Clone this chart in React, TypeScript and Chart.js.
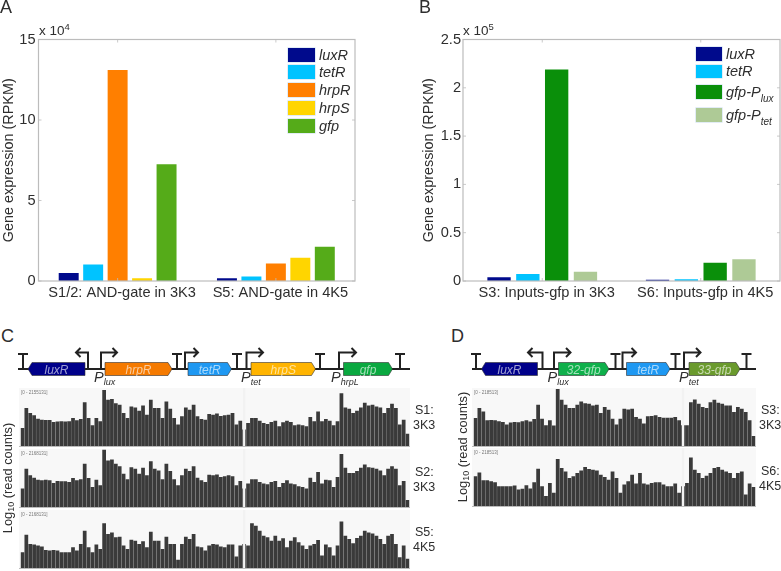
import React, { useEffect, useRef } from "react";
import { Chart, registerables } from "chart.js";

Chart.register(...registerables);

const FONT = '"Liberation Sans", Arial, sans-serif';
const INK = "#2e2e2e";
const BOX = "#bcbcbc";

// Panel A
const groupsA = ["S1/2: AND-gate in 3K3", "S5: AND-gate in 4K5"];
const luxRA = [5000, 1700];
const tetRA = [10300, 2800];
const hrpRA = [131000, 10800];
const hrpSA = [1700, 14500];
const gfpA = [72500, 21300];
const ticksA = [0, 50000, 100000, 150000];

// Panel B
const groupsB = ["S3: Inputs-gfp in 3K3", "S6: Inputs-gfp in 4K5"];
const luxRB = [4000, 1200];
const tetRB = [7200, 1800];
const gfpPluxB = [219000, 19000];
const gfpPtetB = [9500, 22500];
const ticksB = [0, 50000, 100000, 150000, 200000, 250000];

// Coverage tracks, panel C
const s1 = [55,115,100,93,83,80,79,79,73,74,75,74,75,85,78,82,133,85,63,85,75,170,140,143,130,125,100,85,120,117,107,123,95,140,115,115,85,135,113,85,65,90,117,110,125,90,82,80,97,95,99,91,93,95,100,65,77,50,70,85,85,77,70,67,73,77,60,72,77,73,63,65,63,60,88,75,105,75,82,77,63,75,160,117,113,100,107,117,131,123,125,120,117,100,115,128,115,65,80,37];
const s2 = [56,116,96,89,83,81,83,81,73,79,78,78,76,88,81,84,131,88,61,83,66,174,141,144,131,124,101,84,121,116,101,119,96,139,116,111,84,131,109,84,66,96,116,109,124,89,81,76,98,96,99,91,93,96,93,66,79,56,71,84,84,76,71,69,76,79,61,73,81,71,69,63,61,56,89,76,106,71,83,81,61,91,161,119,103,103,109,119,129,121,119,116,111,96,116,124,116,66,79,21];
const s5 = [48,101,73,71,68,65,55,53,55,53,48,48,48,63,53,73,113,63,48,71,58,136,103,108,93,95,68,58,86,83,73,81,63,110,83,83,58,95,73,73,25,73,95,88,103,65,63,53,68,73,71,65,63,71,71,35,68,73,68,136,128,113,98,93,83,98,83,90,63,83,93,78,68,58,68,73,85,38,71,63,38,68,141,98,88,75,91,98,113,108,105,98,88,73,98,103,73,33,68,28];
// Coverage tracks, panel D
const s3 = [85,115,105,78,79,78,75,73,65,71,73,72,75,78,74,82,125,83,63,78,62,173,140,125,115,115,125,135,130,128,123,125,100,118,110,83,65,83,113,111,113,88,83,68,90,91,93,88,86,86,86,88,78,63,63,133,141,128,118,115,133,140,131,128,123,123,103,118,113,103,78,30];
const s6 = [90,102,78,78,75,72,60,60,60,60,62,50,52,63,53,72,113,60,30,70,40,143,115,105,85,90,100,108,118,112,110,108,95,88,80,105,85,40,65,75,95,68,100,68,65,70,72,72,65,60,60,68,40,60,70,147,110,100,85,92,100,115,118,110,105,100,85,100,105,35,68,58];
const gapC = 57;
const gapD = 53;
const trackMax = 176;

const genesC = [
  { name: "luxR", x0: 28, x1: 85, dir: -1, fill: "#00008a" },
  { name: "hrpR", x0: 105, x1: 172, dir: 1, fill: "#f57a00" },
  { name: "tetR", x0: 188, x1: 231.5, dir: 1, fill: "#1e98f2" },
  { name: "hrpS", x0: 251, x1: 315.5, dir: 1, fill: "#ffb400" },
  { name: "gfp", x0: 343.5, x1: 392.5, dir: 1, fill: "#0aa840" },
];
const genesD = [
  { name: "luxR", x0: 481.5, x1: 537.5, dir: -1, fill: "#00008a" },
  { name: "32-gfp", x0: 558.5, x1: 609, dir: 1, fill: "#0fb04b" },
  { name: "tetR", x0: 626.5, x1: 670, dir: 1, fill: "#1e98f2" },
  { name: "33-gfp", x0: 689, x1: 740, dir: 1, fill: "#6a9a2d" },
];

const boxPlugin = {
  id: "matlabBox",
  afterDatasetsDraw(chart: any) {
    const { ctx, chartArea: a, scales } = chart;
    ctx.save();
    ctx.strokeStyle = BOX;
    ctx.lineWidth = 1.2;
    ctx.strokeRect(a.left, a.top, a.right - a.left, a.bottom - a.top);
    ctx.lineWidth = 0.8;
    ctx.beginPath();
    scales.y.ticks.forEach((_: any, i: number) => {
      const y = scales.y.getPixelForTick(i);
      ctx.moveTo(a.left, y); ctx.lineTo(a.left + 3, y);
      ctx.moveTo(a.right, y); ctx.lineTo(a.right - 3, y);
    });
    scales.x.ticks.forEach((_: any, i: number) => {
      const x = scales.x.getPixelForTick(i);
      ctx.moveTo(x, a.bottom); ctx.lineTo(x, a.bottom - 3);
      ctx.moveTo(x, a.top); ctx.lineTo(x, a.top + 3);
    });
    ctx.stroke();
    ctx.restore();
  },
};

type BarProps = {
  left: number; width: number; axisW: number; labels: string[]; tickPad: number;
  series: { label: string; data: number[]; color: string }[];
  ticks: number[]; scale: number; max: number; catPct: number; barPct: number;
};

function BarChart(p: BarProps) {
  const ref = useRef<HTMLCanvasElement>(null);
  useEffect(() => {
    const chart = new Chart(ref.current as HTMLCanvasElement, {
      type: "bar",
      data: {
        labels: p.labels,
        datasets: p.series.map((s) => ({
          label: s.label, data: s.data, backgroundColor: s.color,
          categoryPercentage: p.catPct, barPercentage: p.barPct,
        })),
      },
      options: {
        animation: false, responsive: false,
        layout: { padding: { top: 39.5, right: 1, left: 0, bottom: 0 } },
        plugins: { legend: { display: false }, tooltip: { enabled: false } },
        scales: {
          x: {
            grid: { display: false, drawTicks: false }, border: { display: false },
            ticks: { color: INK, font: { family: FONT, size: 14.6 }, padding: 3, labelOffset: 4.5, maxRotation: 0, autoSkip: false },
            afterFit: (s: any) => { s.height = 29; },
          },
          y: {
            min: 0, max: p.max,
            grid: { display: false, drawTicks: false }, border: { display: false },
            afterBuildTicks: (s: any) => { s.ticks = p.ticks.map((v) => ({ value: v })); },
            ticks: {
              color: INK, font: { family: FONT, size: 14.6 }, padding: p.tickPad,
              callback: (v: any) => String(Number(v) / p.scale),
            },
            title: {
              display: true, text: "Gene expression (RPKM)", color: INK,
              font: { family: FONT, size: 14.4 }, padding: 0,
            },
            afterFit: (s: any) => { s.width = p.axisW; },
          },
        },
      },
      plugins: [boxPlugin],
    } as any);
    return () => chart.destroy();
  }, []);
  return (
    <canvas ref={ref} width={p.width} height={310}
      style={{ position: "absolute", left: p.left, top: 0, display: "block" }} />
  );
}

type TrackProps = { left: number; top: number; width: number; height: number; values: number[]; gap: number; range: string };

function Track(p: TrackProps) {
  const ref = useRef<HTMLCanvasElement>(null);
  useEffect(() => {
    const chart = new Chart(ref.current as HTMLCanvasElement, {
      type: "bar",
      data: {
        labels: p.values.map((_, i) => String(i + 1)),
        datasets: [
          {
            label: "gap", data: p.values.map((_, i) => (i === p.gap ? trackMax : null)),
            backgroundColor: "#f2f2f2", barThickness: 1.6, grouped: false, order: 0,
          },
          {
            label: "coverage", data: p.values, backgroundColor: "#3a3a3a",
            categoryPercentage: 1, barPercentage: 0.96, grouped: false, order: 1,
          },
        ],
      },
      options: {
        animation: false, responsive: false,
        layout: { padding: { left: 1.5, right: 0.5, top: 0, bottom: 0 } },
        plugins: { legend: { display: false }, tooltip: { enabled: false } },
        scales: {
          x: { display: false },
          y: { display: false, min: 0, max: trackMax },
        },
      },
    } as any);
    return () => chart.destroy();
  }, []);
  return (
    <div style={{
      position: "absolute", left: p.left, top: p.top, width: p.width, height: p.height,
      background: "#f8f8f8", borderBottom: "1.5px solid #bcbcbc",
    }}>
      <canvas ref={ref} width={p.width} height={p.height} style={{ display: "block" }} />
      <div style={{ position: "absolute", left: 2, top: 2, fontFamily: FONT, fontSize: 4.5, color: "#777", whiteSpace: "nowrap" }}>{p.range}</div>
    </div>
  );
}

function T({ x, y, size = 14, style, children }: any) {
  return (
    <div style={{
      position: "absolute", left: x, top: y, fontFamily: FONT, fontSize: size, lineHeight: 1,
      color: INK, whiteSpace: "nowrap", transform: "translateY(-50%)", ...style,
    }}>{children}</div>
  );
}

function Sub({ x, y, main, sub }: { x: number; y: number; main: string; sub: string }) {
  return (
    <T x={x} y={y} size={14.5} style={{ fontStyle: "italic" }}>
      {main}
      <span style={{ fontSize: 9, position: "relative", top: 3 }}>{sub}</span>
    </T>
  );
}

function Legend({ items, rows, left, textLeft, w, h }: any) {
  return (
    <>
      {items.map((it: any, i: number) => (
        <React.Fragment key={it.label + i}>
          <div style={{
            position: "absolute", left, top: rows[i], width: w, height: h,
            background: it.color, boxShadow: "0 0 0 0.6px #cfe0f0",
          }} />
          <T x={textLeft} y={rows[i] + h / 2} size={14.5} style={{ fontStyle: "italic" }}>
            {it.label}
            {it.sub ? <span style={{ fontSize: 10, position: "relative", top: 5 }}>{it.sub}</span> : null}
          </T>
        </React.Fragment>
      ))}
    </>
  );
}

function Diagram({ genes, lineFrom, lineTo, terms, leftProm, rightProms }: any) {
  const yBase = 369;
  const yTop = 354;
  const yArrow = 352.5;
  const sw = 2;
  return (
    <svg width={781} height={571} style={{ position: "absolute", left: 0, top: 0 }}>
      <line x1={lineFrom} x2={lineTo} y1={yBase} y2={yBase} stroke="#222" strokeWidth={sw} />
      {terms.map((x: number) => (
        <g key={x} stroke="#222" strokeWidth={sw}>
          <line x1={x} x2={x} y1={yBase} y2={yTop} />
          <line x1={x - 5} x2={x + 5} y1={yTop} y2={yTop} />
        </g>
      ))}
      {leftProm ? (
        <path d={`M${leftProm[0]} ${yBase}V${yArrow}H${leftProm[1]}M${leftProm[1] + 4.5} ${yArrow - 4.5}L${leftProm[1]} ${yArrow}L${leftProm[1] + 4.5} ${yArrow + 4.5}`}
          fill="none" stroke="#222" strokeWidth={sw} />
      ) : null}
      {rightProms.map((p: number[]) => (
        <path key={p[0]} d={`M${p[0]} ${yBase}V${yArrow}H${p[1]}M${p[1] - 4.5} ${yArrow - 4.5}L${p[1]} ${yArrow}L${p[1] - 4.5} ${yArrow + 4.5}`}
          fill="none" stroke="#222" strokeWidth={sw} />
      ))}
      {genes.map((g: any) => {
        const top = 362.5, bot = 375.5, mid = 369;
        const d = g.dir > 0
          ? `M${g.x0} ${top}H${g.x1 - 4}L${g.x1} ${mid}L${g.x1 - 4} ${bot}H${g.x0}Z`
          : `M${g.x1} ${top}H${g.x0 + 4}L${g.x0} ${mid}L${g.x0 + 4} ${bot}H${g.x1}Z`;
        return (
          <g key={g.name}>
            <path d={d} fill={g.fill} stroke="#333" strokeWidth={0.6} />
            <text x={(g.x0 + g.x1) / 2} y={373.5} textAnchor="middle" fontFamily={FONT}
              fontStyle="italic" fontSize={12} fill="#ffffff" fillOpacity={0.62}>{g.name}</text>
          </g>
        );
      })}
    </svg>
  );
}

function LogLabel({ x, y }: { x: number; y: number }) {
  return (
    <div style={{ position: "absolute", left: x, top: y, transform: "translate(-50%,-50%) rotate(-90deg)", fontFamily: FONT, fontSize: 12.8, color: INK, whiteSpace: "nowrap" }}>
      Log<span style={{ fontSize: 9, position: "relative", top: 2 }}>10</span> (read counts)
    </div>
  );
}

export default function App() {
  const seriesA = [
    { label: "luxR", data: luxRA, color: "#000a8c" },
    { label: "tetR", data: tetRA, color: "#00c3ff" },
    { label: "hrpR", data: hrpRA, color: "#ff7f00" },
    { label: "hrpS", data: hrpSA, color: "#ffd500" },
    { label: "gfp", data: gfpA, color: "#55ab19" },
  ];
  const seriesB = [
    { label: "luxR", data: luxRB, color: "#000a8c" },
    { label: "tetR", data: tetRB, color: "#00c3ff" },
    { label: "gfp-Plux", data: gfpPluxB, color: "#0a8f0a" },
    { label: "gfp-Ptet", data: gfpPtetB, color: "#aeca96" },
  ];
  return (
    <div style={{ position: "absolute", left: 0, top: 0, width: 781, height: 571, overflow: "hidden", background: "#fff", filter: "blur(0.4px)" }}>
      <BarChart left={0} width={356} axisW={38.5} tickPad={3} labels={groupsA} series={seriesA} ticks={ticksA} scale={10000} max={150000} catPct={0.773} barPct={0.816} />
      <BarChart left={420} width={361} axisW={43} tickPad={2} labels={groupsB} series={seriesB} ticks={ticksB} scale={100000} max={250000} catPct={0.727} barPct={0.81} />

      <Legend left={288} textLeft={319} w={27} h={14} rows={[47.5, 65.3, 83, 100.8, 118.5]}
        items={seriesA.map((s) => ({ label: s.label, color: s.color }))} />
      <Legend left={696} textLeft={726} w={26} h={13.5} rows={[47, 64.7, 85, 108]}
        items={[
          { label: "luxR", color: seriesB[0].color },
          { label: "tetR", color: seriesB[1].color },
          { label: "gfp-P", sub: "lux", color: seriesB[2].color },
          { label: "gfp-P", sub: "tet", color: seriesB[3].color },
        ]} />

      <T x={0} y={7} size={18}>A</T>
      <T x={419} y={7} size={18}>B</T>
      <T x={1} y={336} size={18}>C</T>
      <T x={451} y={336} size={18}>D</T>

      <T x={39} y={31} size={13.5}>x 10<span style={{ fontSize: 9.5, position: "relative", top: -5 }}>4</span></T>
      <T x={463} y={31} size={13.5}>x 10<span style={{ fontSize: 9.5, position: "relative", top: -5 }}>5</span></T>

      <Diagram genes={genesC} lineFrom={18} lineTo={410}
        terms={[23, 177, 237, 320, 400]} leftProm={[88, 76]}
        rightProms={[[101, 117], [185, 198], [246.5, 263], [339, 356]]} />
      <Diagram genes={genesD} lineFrom={472} lineTo={756}
        terms={[476, 615.5, 675.5, 746.5]} leftProm={[542.5, 528]}
        rightProms={[[554, 570.5], [622.5, 636], [684, 700.5]]} />

      <Sub x={94} y={377} main="P" sub="lux" />
      <Sub x={241} y={377} main="P" sub="tet" />
      <Sub x={331} y={377} main="P" sub="hrpL" />
      <Sub x={547.5} y={377} main="P" sub="lux" />
      <Sub x={679} y={377} main="P" sub="tet" />

      <Track left={19} top={388} width={391} height={58} values={s1} gap={gapC} range="[0 - 2155131]" />
      <Track left={19} top={449} width={391} height={58} values={s2} gap={gapC} range="[0 - 2168131]" />
      <Track left={19} top={510} width={391} height={58} values={s5} gap={gapC} range="[0 - 2168131]" />
      <Track left={472} top={388} width={284} height={58} values={s3} gap={gapD} range="[0 - 218513]" />
      <Track left={472} top={448} width={284} height={58} values={s6} gap={gapD} range="[0 - 218513]" />

      <T x={415} y={410} size={12.5}>S1:</T>
      <T x={413} y={425} size={12.5}>3K3</T>
      <T x={415} y={472} size={12.5}>S2:</T>
      <T x={413} y={487} size={12.5}>3K3</T>
      <T x={415} y={532} size={12.5}>S5:</T>
      <T x={413} y={547} size={12.5}>4K5</T>
      <T x={761} y={410} size={12.5}>S3:</T>
      <T x={759} y={425} size={12.5}>3K3</T>
      <T x={761} y={471} size={12.5}>S6:</T>
      <T x={759} y={486} size={12.5}>4K5</T>

      <LogLabel x={7} y={478} />
      <LogLabel x={461.5} y={447} />
    </div>
  );
}
